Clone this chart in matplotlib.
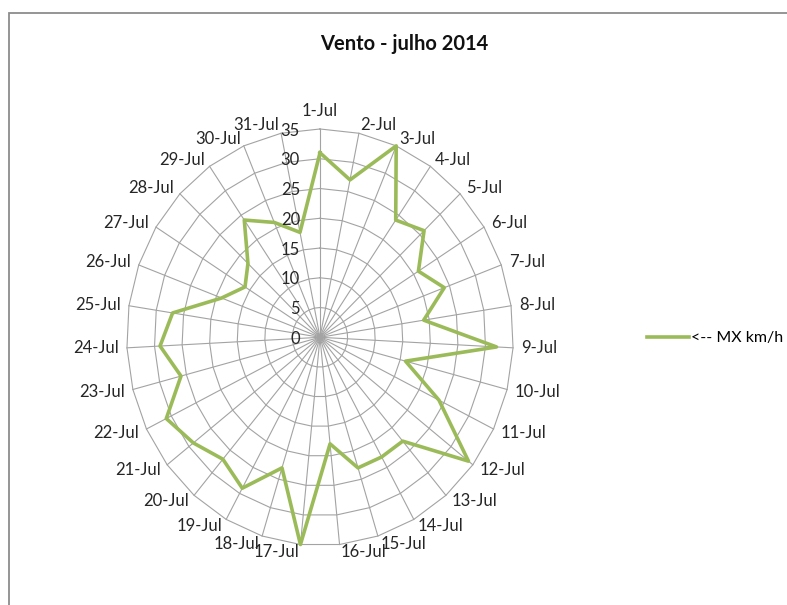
import numpy as np
import matplotlib
matplotlib.use('Agg')
import matplotlib.pyplot as plt
from matplotlib.patches import Rectangle

plt.rcParams['font.family'] = ['Lato', 'DejaVu Sans']

# dados: vento maximo (km/h) por dia, julho 2014
dias = [f'{d}-Jul' for d in range(1, 32)]
vento = [31, 27, 35, 24, 26, 21, 24, 19, 32, 16, 24, 34, 23, 23, 23, 18,
         35, 23, 29, 27, 29, 31, 26, 29, 27, 19, 16, 18, 24, 21, 18]
aneis = [0, 5, 10, 15, 20, 25, 30, 35]

fig = plt.figure(figsize=(7.87, 6.05), dpi=100)
ax = fig.add_axes([0.1610, 0.0982, 0.4912, 0.6886], projection='polar')
ax.set_aspect('auto')
ax.set_theta_zero_location('N')
ax.set_theta_direction(-1)
ax.set_ylim(0, 35)
ax.set_axis_off()

ang = np.arange(len(dias)) * 2 * np.pi / len(dias)
fechado = np.append(ang, ang[0])
cinza = '#a3a3a3'

# grelha em poligono + raios
for r in aneis[1:]:
    ax.plot(fechado, [r] * len(fechado), color=cinza, lw=0.8, clip_on=False, zorder=1)
for a in ang:
    ax.plot([a, a], [0, aneis[-1]], color=cinza, lw=0.8, clip_on=False, zorder=1)

ax.plot(fechado, vento + [vento[0]], color='#9bbb59', lw=2.6, clip_on=False,
        zorder=3, label='<-- MX km/h')

# valores do eixo radial
for r in aneis:
    ax.annotate(str(r), xy=(0, r), xytext=(-14.4, -1.2), textcoords='offset points',
                ha='right', va='center', fontsize=12, color='#262626',
                annotation_clip=False)

# rotulos das categorias
for a, lab in zip(ang, dias):
    s, c = np.sin(a), np.cos(a)
    if abs(s) < 0.05:
        ha, va, off = 'center', 'bottom', 10
    else:
        ha, va, off = ('left' if s > 0 else 'right'), 'center', 8
    ax.annotate(lab, xy=(a, aneis[-1]), xytext=(off * s * 0.72, off * c * 0.72),
                textcoords='offset points', ha=ha, va=va, fontsize=12,
                color='#262626', annotation_clip=False)

fig.text(404 / 787, 1 - 44 / 605, 'Vento - julho 2014', ha='center', va='center',
         fontsize=14.5, fontweight='bold', color='#111111')

ax.legend(loc='center left', bbox_to_anchor=(639 / 787, 1 - 338 / 605),
          bbox_transform=fig.transFigure, frameon=False, borderpad=0,
          handlelength=2.6, handletextpad=0.15, fontsize=11.5)

fig.add_artist(Rectangle((9 / 787, -0.1), 1.2, 1.1 - 13 / 605, transform=fig.transFigure,
                         fill=False, edgecolor='#8c8c8c', lw=1.3))

fig.savefig('out.png', dpi=100)
